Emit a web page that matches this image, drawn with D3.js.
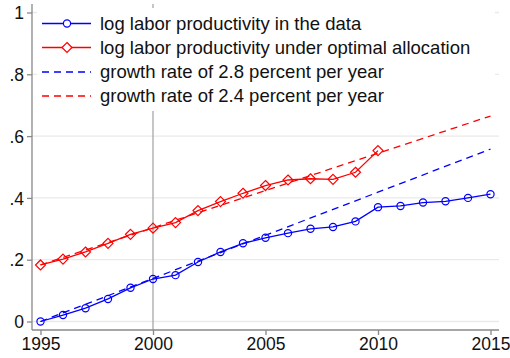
<!DOCTYPE html>
<html><head><meta charset="utf-8">
<script src="https://cdn.jsdelivr.net/npm/d3@7"></script>
<style>body{margin:0;background:#fff}svg{display:block}text{font-family:"Liberation Sans",Arial,sans-serif}</style>
</head><body><svg id="c" width="510" height="358"></svg>
<script>
const years = d3.range(1995, 2016);
const dataValues = [0, 0.021, 0.043, 0.073, 0.109, 0.1375, 0.150, 0.1925, 0.225, 0.253, 0.271, 0.286, 0.300, 0.306, 0.324, 0.370, 0.374, 0.385, 0.389, 0.400, 0.412];
const optYears = d3.range(1995, 2011);
const optimalValues = [0.183, 0.202, 0.225, 0.253, 0.282, 0.302, 0.320, 0.359, 0.388, 0.415, 0.440, 0.458, 0.462, 0.460, 0.483, 0.553];
const trendBlue = [[1995, 0], [2015, 0.558]];
const trendRed = [[1995, 0.183], [2015, 0.665]];
const yTicks = [0, 0.2, 0.4, 0.6, 0.8, 1];
const yTickLabels = ["0", ".2", ".4", ".6", ".8", "1"];
const xTicks = [1995, 2000, 2005, 2010, 2015];
const legendLabels = ["log labor productivity in the data", "log labor productivity under optimal allocation", "growth rate of 2.8 percent per year", "growth rate of 2.4 percent per year"];

const svg = d3.select("#c");
const x = d3.scaleLinear().domain([1995, 2015]).range([40.5, 490.5]);
const y = d3.scaleLinear().domain([0, 1]).range([321.5, 12.5]);
const L = 32, R = 499, T = 4, B = 330;
const blue = "#0000ff", red = "#ff0000";

// gridlines
svg.append("g").selectAll("line").data(yTicks).join("line")
  .attr("x1", L).attr("x2", R).attr("y1", d => y(d)).attr("y2", d => y(d))
  .attr("stroke", "#eaeaea").attr("stroke-width", 1.3);

// vertical line at 2000
svg.append("line").attr("x1", x(2000)).attr("x2", x(2000)).attr("y1", T).attr("y2", B)
  .attr("stroke", "#a8a8a8").attr("stroke-width", 1.3);

// axes
const yAxis = d3.axisLeft(y).tickValues(yTicks).tickFormat((d, i) => yTickLabels[i]).tickSize(5).tickSizeOuter(0);
const gy = svg.append("g").attr("transform", `translate(${L},0)`).call(yAxis);
gy.select(".domain").attr("d", `M0,${T}V${B}`).attr("stroke", "#888").attr("stroke-width", 1.3);
gy.selectAll(".tick line").attr("stroke", "#888").attr("stroke-width", 1.3);
gy.selectAll(".tick text").attr("font-size", 17.5).attr("fill", "#111").attr("x", -8).attr("dy", "0.35em").attr("font-family", "Liberation Sans, Arial, sans-serif");

const xAxis = d3.axisBottom(x).tickValues(xTicks).tickFormat(d3.format("d")).tickSize(5).tickSizeOuter(0);
const gx = svg.append("g").attr("transform", `translate(0,${B})`).call(xAxis);
gx.select(".domain").attr("d", `M${L},0H${R}`).attr("stroke", "#888").attr("stroke-width", 1.3);
gx.selectAll(".tick line").attr("stroke", "#888").attr("stroke-width", 1.3);
gx.selectAll(".tick text").attr("font-size", 17.5).attr("fill", "#111").attr("y", 8).attr("dy", "0.71em").attr("font-family", "Liberation Sans, Arial, sans-serif");

const line = d3.line().x(d => x(d[0])).y(d => y(d[1]));

// trend lines
svg.append("path").datum(trendRed).attr("d", line).attr("fill", "none").attr("stroke", red).attr("stroke-width", 1.3).attr("stroke-dasharray", "7,5");
svg.append("path").datum(trendBlue).attr("d", line).attr("fill", "none").attr("stroke", blue).attr("stroke-width", 1.3).attr("stroke-dasharray", "7,5");

// data series
const dataPts = years.map((yr, i) => [yr, dataValues[i]]);
const optPts = optYears.map((yr, i) => [yr, optimalValues[i]]);
svg.append("path").datum(dataPts).attr("d", line).attr("fill", "none").attr("stroke", blue).attr("stroke-width", 1.3);
svg.append("g").selectAll("circle").data(dataPts).join("circle")
  .attr("cx", d => x(d[0])).attr("cy", d => y(d[1])).attr("r", 3.6)
  .attr("fill", "none").attr("stroke", blue).attr("stroke-width", 1.2);
svg.append("path").datum(optPts).attr("d", line).attr("fill", "none").attr("stroke", red).attr("stroke-width", 1.3);
const diamond = (cx, cy, s) => `M${cx},${cy - s}L${cx + s},${cy}L${cx},${cy + s}L${cx - s},${cy}Z`;
svg.append("g").selectAll("path").data(optPts).join("path")
  .attr("d", d => diamond(x(d[0]), y(d[1]), 5))
  .attr("fill", "none").attr("stroke", red).attr("stroke-width", 1.2);

// legend
const lg = svg.append("g");
lg.append("rect").attr("x", 37).attr("y", 8).attr("width", 458).attr("height", 103).attr("fill", "#fff");
const rowY = [23.5, 47.5, 72, 96];
const styles = [
  {c: blue, dash: null, m: "circle"},
  {c: red, dash: null, m: "diamond"},
  {c: blue, dash: "7,5", m: null},
  {c: red, dash: "7,5", m: null}
];
legendLabels.forEach((lab, i) => {
  const yy = rowY[i], s = styles[i];
  lg.append("line").attr("x1", 42).attr("x2", 91).attr("y1", yy).attr("y2", yy)
    .attr("stroke", s.c).attr("stroke-width", 1.3).attr("stroke-dasharray", s.dash);
  if (s.m === "circle") lg.append("circle").attr("cx", 67).attr("cy", yy).attr("r", 3.6).attr("fill", "#fff").attr("stroke", s.c).attr("stroke-width", 1.2);
  if (s.m === "diamond") lg.append("path").attr("d", diamond(67, yy, 5)).attr("fill", "#fff").attr("stroke", s.c).attr("stroke-width", 1.2);
  lg.append("text").attr("x", 100).attr("y", yy).attr("dy", "0.35em").attr("font-size", 18.5).attr("fill", "#111").text(lab);
});
</script></body></html>
